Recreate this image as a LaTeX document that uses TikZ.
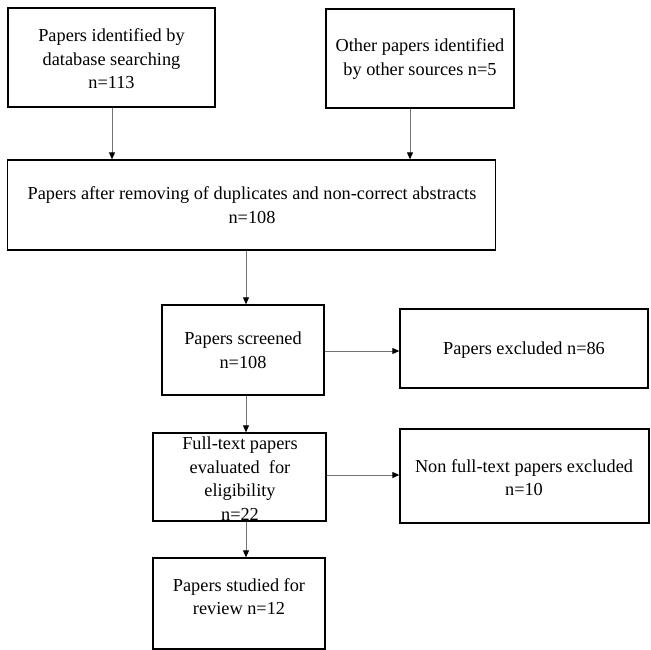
\documentclass[tikz,border=0pt]{standalone}
\usepackage{fontspec}
\setmainfont{Liberation Serif}
\usetikzlibrary{arrows.meta}
\begin{document}
\begin{tikzpicture}[x=1pt,y=1pt,
  box/.style={draw=black, line width=1.3pt, inner sep=0pt, rectangle},
  txt/.style={inner sep=0pt, align=center, font=\fontsize{18.3}{23.5}\selectfont},
  conn/.style={draw=black!55, line width=0.9pt, -{Triangle[length=7pt,width=6pt,color=black]}}]
\useasboundingbox (0,0) rectangle (651,-650);
% boxes
\node[box, minimum width=207, minimum height=99] (b1) at (111.5,-57.5) {};
\node[box, minimum width=188, minimum height=99] (b2) at (420,-58.5) {};
\node[box, minimum width=488, minimum height=90] (b3) at (251.5,-205) {};
\node[box, minimum width=162, minimum height=90] (b4) at (243,-350) {};
\node[box, minimum width=248, minimum height=79] (b5) at (524,-348.5) {};
\node[box, minimum width=173, minimum height=88] (b6) at (239.5,-477) {};
\node[box, minimum width=249, minimum height=94] (b7) at (524.5,-476) {};
\node[box, minimum width=172, minimum height=91] (b8) at (239,-603.5) {};
% texts
\node[txt] (t1) at (111.5,-59) {Papers identified by\\database searching\\n=113};
\node[txt] (t2) at (420,-59) {Other papers identified\\by other sources n=5};
\node[txt] (t3) at (252,-205) {Papers after removing of duplicates and non-correct abstracts\\n=108};
\node[txt] (t4) at (243,-350) {Papers screened\\n=108};
\node[txt] (t5) at (524,-350) {Papers excluded n=86};
\node[txt] (t6) at (240,-478.5) {Full-text papers\\evaluated\ \ for\\eligibility\\n=22};
\node[txt] (t7) at (524,-477.5) {Non full-text papers excluded\\n=10};
\node[txt] (t8) at (239,-596.5) {Papers studied for\\review n=12};
% coordinates for connector positions
\coordinate (c1) at (112,0);
\coordinate (c2) at (410,0);
\coordinate (c3) at (246,0);
\draw[conn] (b1.south -| c1) -- (b3.north -| c1);
\draw[conn] (b2.south -| c2) -- (b3.north -| c2);
\draw[conn] (b3.south -| c3) -- (b4.north -| c3);
\draw[conn] (b4.south -| c3) -- (b6.north -| c3);
\draw[conn] (b6.south -| c3) -- (b8.north -| c3);
\coordinate (r1) at (0,-351);
\coordinate (r2) at (0,-475);
\draw[conn] (b4.east |- r1) -- (b5.west |- r1);
\draw[conn] (b6.east |- r2) -- (b7.west |- r2);
\end{tikzpicture}
\end{document}
